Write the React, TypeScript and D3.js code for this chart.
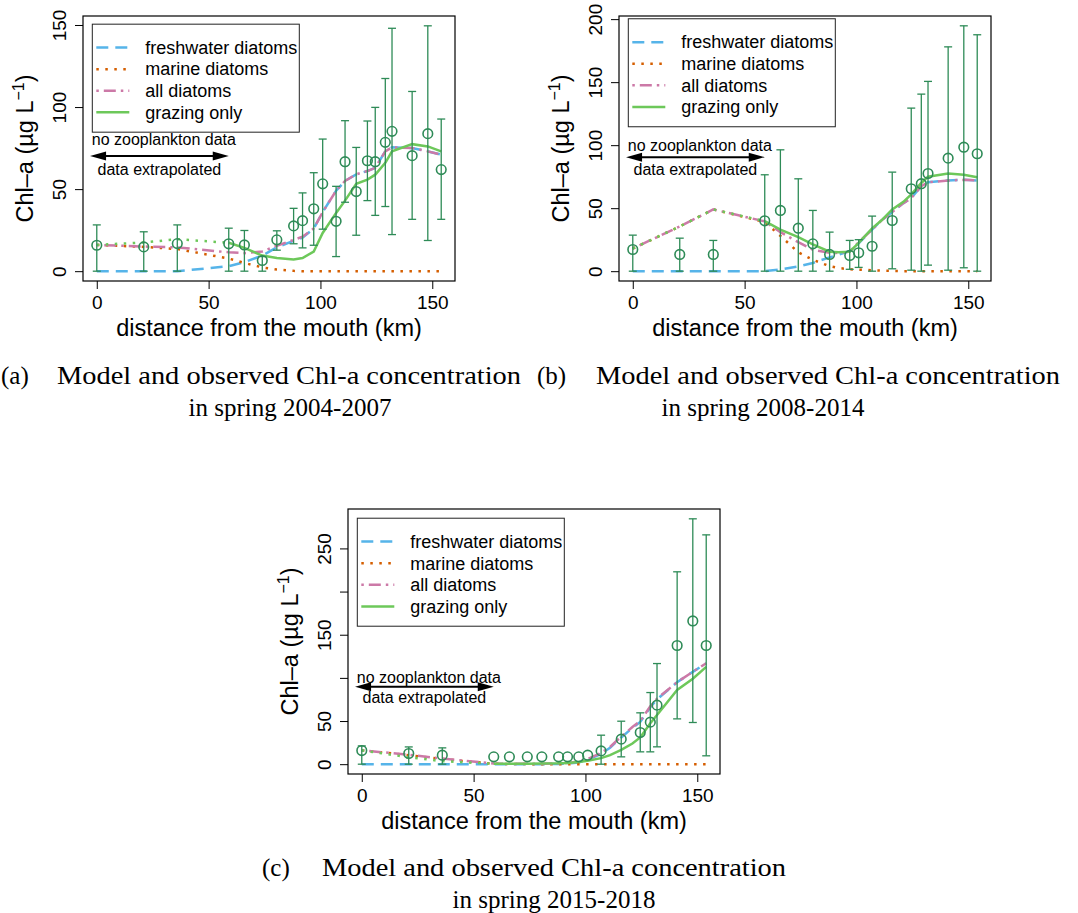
import React, { useRef, useEffect } from 'react';
import * as d3 from 'd3';

// model output positions along the estuary (km from the mouth)
const modelKm = [0, 21, 36, 59, 66, 74, 80.5, 88, 92, 97, 101, 107, 111, 116, 121, 124.5, 129, 132, 141, 148, 154];

// (a) spring 2004-2007
const freshA = [0, 0, 0, 3, 5.5, 9.5, 14.5, 18.5, 20.5, 26, 36, 49, 55, 59, 61, 63, 73, 75.5, 75, 73, 71];
const marineA = [16, 14.8, 13.5, 7.7, 5, 2.3, 1, 0.2, 0, 0, 0, 0, 0, 0, 0, 0, 0, 0, 0, 0, 0];
const allA = [16, 15, 14.5, 11.5, 11, 12, 15.5, 19, 21, 26, 36, 49, 55, 59, 61, 63, 73, 75.5, 75, 73, 71];
const grazingA = [16, 17.5, 19.5, 17.3, 14.2, 9.5, 8.1, 7.1, 8, 12, 23.3, 35.5, 43, 53.2, 55.8, 58.8, 66, 73, 77.4, 76, 73];
const obsKmA = [0, 21, 36, 59, 66, 74, 80.5, 88, 92, 97, 101, 107, 111, 116, 121, 124.5, 129, 132, 141, 148, 154];
const obsA = [15.8, 14.8, 16.8, 16.7, 16, 6.5, 19.1, 27.6, 30.8, 38, 53.2, 30.4, 66.7, 48.5, 67.3, 66.7, 78.5, 85.2, 70.4, 83.8, 61.9];
const upperA = [28.2, 24, 28.2, 26.2, 24.8, 8.9, 24.6, 38.3, 47.7, 60, 80.5, 51.7, 91.7, 75.4, 91.5, 99.8, 117.4, 148, 109.5, 149.5, 92.7];
const lowerA = [0, 0, 0, 0, 0, 0, 12.8, 16.7, 14.2, 15.8, 25.6, 8.9, 42, 21.9, 43, 34, 39.4, 22.3, 31.6, 18.7, 31.6];

// (b) spring 2008-2014
const freshB = [0, 0, 0, 0, 1.3, 3.7, 6.5, 11, 13, 16, 22, 33, 40, 47, 54, 58, 67.5, 70.5, 72, 72.5, 72];
const marineB = [18, 35.5, 49, 39, 28, 15, 9, 4, 2.5, 1.5, 1.2, 0.8, 0.4, 0.2, 0, 0, 0, 0, 0, 0, 0];
const allB = [18, 35.5, 49, 39.5, 31, 23, 17, 14.6, 14.5, 15.5, 23, 33, 40, 47, 54, 58, 67.5, 70.5, 72, 72.5, 72];
const grazingB = [18, 35.5, 49, 39.7, 33, 27, 21.2, 15.5, 15, 15.5, 22.5, 34, 40, 49, 55, 61, 70, 75, 77.5, 76.5, 74.6];
const obsKmB = [0, 21, 36, 59, 66, 74, 80.5, 88, 97, 101, 107, 116, 124.5, 129, 132, 141, 148, 154];
const obsB = [17.2, 13.3, 13.3, 40, 48.2, 34.1, 21.7, 13.3, 12.5, 14.6, 19.8, 40.2, 65.4, 69.4, 77.5, 89.7, 98.4, 93.2];
const upperB = [28.6, 26.2, 24.4, 76.5, 96.3, 73.3, 48.2, 31, 24.4, 25, 43.7, 78.6, 129.4, 140.5, 150.6, 178, 194.7, 187.6];
const lowerB = [0, 0, 0, 0, 0, 0, 0, 0, 1.5, 3, 0, 1.9, 0.8, 0, 4.8, 0.8, 2.7, 0];

// (c) spring 2015-2018
const freshC = [0, 0, 0, 0, 0, 0, 0, 0.3, 0.6, 2, 5, 12, 19, 31, 42, 49, 66, 75, 95, 107, 117];
const marineC = [16, 10.5, 6, 0.5, 0.2, 0.1, 0, 0, 0, 0, 0, 0, 0, 0, 0, 0, 0, 0, 0, 0, 0];
const allC = [16, 11, 6.5, 0.8, 0.5, 0.5, 0.6, 1, 1.5, 3, 6, 13, 20, 32, 43, 50, 67, 76, 95, 107, 117];
const grazingC = [16, 8, 3.5, 0.5, 0.5, 0.6, 0.8, 1, 1.5, 2.5, 4, 7, 10.5, 16.5, 24, 31, 47.5, 57, 86, 99, 112.7];
const obsKmC = [0, 21, 36, 59, 66, 74, 80.5, 88, 92, 97, 101, 107, 116, 124.5, 129, 132, 141, 148, 154];
const obsC = [15.8, 12.4, 10.4, 8.5, 8.5, 8.5, 8.5, 8.5, 8.5, 8.5, 10.4, 15.4, 29, 36.7, 48.7, 68.4, 137.5, 166, 137.5];
const upperC = [21.2, 20, 18.9, 8.5, 8.5, 8.5, 8.5, 8.5, 8.5, 8.5, 10.4, 33.6, 49.8, 59.5, 83, 116.6, 222.9, 284.3, 265.7];
const lowerC = [0, 0, 0, 8.5, 8.5, 8.5, 8.5, 8.5, 8.5, 8.5, 10.4, 0, 8.5, 14.3, 14.3, 20.1, 52.5, 48.3, 9.7];

const yTicksA = [0, 50, 100, 150];
const yTicksB = [0, 50, 100, 150, 200];
const yTicksC = [0, 50, 100, 150, 200, 250];
const yLabelsC = [0, 50, 150, 250];
const xTicks = [0, 50, 100, 150];

const legendLabels = ['freshwater diatoms', 'marine diatoms', 'all diatoms', 'grazing only'];
const captions = [
  ['(a)', 'Model and observed Chl-a concentration', 'in spring 2004-2007'],
  ['(b)', 'Model and observed Chl-a concentration', 'in spring 2008-2014'],
  ['(c)', 'Model and observed Chl-a concentration', 'in spring 2015-2018'],
];

const SANS = '"Liberation Sans", Arial, Helvetica, sans-serif';
const SERIF = '"Liberation Serif", "Times New Roman", serif';
const PW = 372;
const PH = 265;
const OBS = '#2E8B57';
const lineStyles = [
  { color: '#56B4E9', dash: '12 7' },
  { color: '#D55E00', dash: '2.5 6.5' },
  { color: '#CC79A7', dash: '2.5 5 12 5' },
  { color: '#6DC85A', dash: null },
];

const panels = [
  { left: 83, top: 16, model: [freshA, marineA, allA, grazingA], km: obsKmA, obs: obsA, upper: upperA, lower: lowerA,
    yTicks: yTicksA, yLabels: yTicksA, legendAt: [-2, 150.5], arrowY: 70.2, noteY: [80.5, 62.3] },
  { left: 619, top: 16, model: [freshB, marineB, allB, grazingB], km: obsKmB, obs: obsB, upper: upperB, lower: lowerB,
    yTicks: yTicksB, yLabels: yTicksB, legendAt: [-2, 200.3], arrowY: 90.5, noteY: [100, 80.7] },
  { left: 348, top: 509, model: [freshC, marineC, allC, grazingC], km: obsKmC, obs: obsC, upper: upperC, lower: lowerC,
    yTicks: yTicksC, yLabels: yLabelsC, legendAt: [-2, 285], arrowY: 89.6, noteY: [101, 77] },
];

const captionLayout = [
  { label: 1, text: 57, center: 290, y: 384 },
  { label: 537, text: 596, center: 763, y: 384 },
  { label: 262, text: 322, center: 554, y: 876 },
];

function drawPanel(svg, p) {
  const g = svg.append('g').attr('transform', `translate(${p.left},${p.top})`);

  const xPad = 154 * 0.04;
  const x = d3.scaleLinear().domain([-xPad, 154 + xPad]).range([0, PW]);
  const yMax = d3.max(p.upper);
  const y = d3.scaleLinear().domain([-yMax * 0.04, yMax * 1.04]).range([PH, 0]);

  // axes
  const xAxis = g.append('g').attr('transform', `translate(0,${PH})`)
    .call(d3.axisBottom(x).tickValues(xTicks).tickSize(8).tickSizeOuter(0).tickPadding(7));
  xAxis.select('.domain').remove();
  xAxis.selectAll('line').attr('stroke', '#000');
  xAxis.selectAll('text').style('font-family', SANS).style('font-size', '19px').attr('fill', '#000');

  const yAxis = g.append('g')
    .call(d3.axisLeft(y).tickValues(p.yTicks).tickSize(8).tickSizeOuter(0)
      .tickFormat((d) => (p.yLabels.includes(d) ? String(d) : '')));
  yAxis.select('.domain').remove();
  yAxis.selectAll('line').attr('stroke', '#000');
  yAxis.selectAll('text')
    .style('font-family', SANS).style('font-size', '19px').attr('fill', '#000')
    .attr('x', 0).attr('y', 0).attr('dy', '0.35em').attr('text-anchor', 'middle')
    .attr('transform', 'translate(-24,0) rotate(-90)');

  g.append('text')
    .attr('x', PW / 2).attr('y', PH + 55)
    .attr('text-anchor', 'middle')
    .style('font-family', SANS).style('font-size', '23.5px')
    .text('distance from the mouth (km)');

  const yt = g.append('text')
    .attr('transform', `translate(-50,${PH / 2}) rotate(-90)`)
    .attr('text-anchor', 'middle')
    .style('font-family', SANS).style('font-size', '23.5px');
  yt.append('tspan').text('Chl–a (µg L');
  yt.append('tspan').attr('dy', -9).style('font-size', '16px').text('−1');
  yt.append('tspan').attr('dy', 9).text(')');

  // model curves
  const line = d3.line().x((d) => x(d[0])).y((d) => y(d[1]));
  p.model.forEach((vals, i) => {
    const pts = modelKm.map((k, j) => [k, vals[j]]);
    const st = lineStyles[i];
    if (i === 3) {
      // grazing is extrapolated upstream of the zooplankton data
      g.append('path').datum(pts.slice(0, 4)).attr('d', line)
        .attr('fill', 'none').attr('stroke', st.color).attr('stroke-width', 2.5)
        .attr('stroke-dasharray', lineStyles[1].dash);
      g.append('path').datum(pts.slice(3)).attr('d', line)
        .attr('fill', 'none').attr('stroke', st.color).attr('stroke-width', 2.5);
    } else {
      g.append('path').datum(pts).attr('d', line)
        .attr('fill', 'none').attr('stroke', st.color).attr('stroke-width', 2.5)
        .attr('stroke-dasharray', st.dash);
    }
  });

  // observations with error bars
  const obs = p.km.map((k, i) => ({ k, v: p.obs[i], hi: p.upper[i], lo: p.lower[i] }));
  const bars = g.append('g').attr('stroke', OBS).attr('stroke-width', 1.3);
  obs.filter((d) => d.hi - d.lo > 0.5).forEach((d) => {
    const cx = x(d.k);
    bars.append('line').attr('x1', cx).attr('x2', cx).attr('y1', y(d.hi)).attr('y2', y(d.lo));
    bars.append('line').attr('x1', cx - 4).attr('x2', cx + 4).attr('y1', y(d.hi)).attr('y2', y(d.hi));
    bars.append('line').attr('x1', cx - 4).attr('x2', cx + 4).attr('y1', y(d.lo)).attr('y2', y(d.lo));
  });
  g.append('g').selectAll('circle').data(obs).join('circle')
    .attr('cx', (d) => x(d.k)).attr('cy', (d) => y(d.v)).attr('r', 4.8)
    .attr('fill', 'none').attr('stroke', OBS).attr('stroke-width', 1.6);

  // extrapolation note
  const ay = y(p.arrowY);
  const ax0 = x(-3);
  const ax1 = x(59);
  g.append('line').attr('x1', ax0 + 10).attr('x2', ax1 - 10).attr('y1', ay).attr('y2', ay)
    .attr('stroke', '#000').attr('stroke-width', 2);
  g.append('path').attr('d', `M${ax0},${ay}L${ax0 + 16},${ay - 4.5}L${ax0 + 16},${ay + 4.5}Z`).attr('fill', '#000');
  g.append('path').attr('d', `M${ax1},${ay}L${ax1 - 16},${ay - 4.5}L${ax1 - 16},${ay + 4.5}Z`).attr('fill', '#000');
  g.append('text').attr('x', x(30)).attr('y', y(p.noteY[0])).attr('dy', '0.35em')
    .attr('text-anchor', 'middle').style('font-family', SANS).style('font-size', '16px')
    .text('no zooplankton data');
  g.append('text').attr('x', x(28)).attr('y', y(p.noteY[1])).attr('dy', '0.35em')
    .attr('text-anchor', 'middle').style('font-family', SANS).style('font-size', '16px')
    .text('data extrapolated');

  // legend
  const lg = g.append('g').attr('transform', `translate(${x(p.legendAt[0])},${y(p.legendAt[1])})`);
  lg.append('rect').attr('width', 207).attr('height', 108)
    .attr('fill', '#fff').attr('stroke', '#222').attr('stroke-width', 1);
  legendLabels.forEach((label, i) => {
    const ly = 23.4 + i * 21.6;
    lg.append('line').attr('x1', 4).attr('x2', 37).attr('y1', ly).attr('y2', ly)
      .attr('stroke', lineStyles[i].color).attr('stroke-width', 2.5)
      .attr('stroke-dasharray', lineStyles[i].dash);
    lg.append('text').attr('x', 53).attr('y', ly).attr('dy', '0.35em')
      .style('font-family', SANS).style('font-size', '18px').text(label);
  });

  // plot frame
  g.append('rect').attr('width', PW).attr('height', PH)
    .attr('fill', 'none').attr('stroke', '#000').attr('stroke-width', 1.2);
}

export default function App() {
  const ref = useRef(null);
  useEffect(() => {
    const svg = d3.select(ref.current);
    svg.selectAll('*').remove();
    panels.forEach((p) => drawPanel(svg, p));

    captions.forEach((c, i) => {
      const l = captionLayout[i];
      const t = svg.append('g').style('font-family', SERIF).style('font-size', '25px').attr('fill', '#000');
      t.append('text').attr('x', l.label).attr('y', l.y).text(c[0]);
      t.append('text').attr('x', l.text).attr('y', l.y)
        .attr('textLength', 464).attr('lengthAdjust', 'spacingAndGlyphs').text(c[1]);
      t.append('text').attr('x', l.center).attr('y', l.y + 32).attr('text-anchor', 'middle').text(c[2]);
    });
  }, []);

  return (
    <svg ref={ref} width={1078} height={913}
      style={{ position: 'absolute', left: 0, top: 0, background: '#fff' }} />
  );
}
